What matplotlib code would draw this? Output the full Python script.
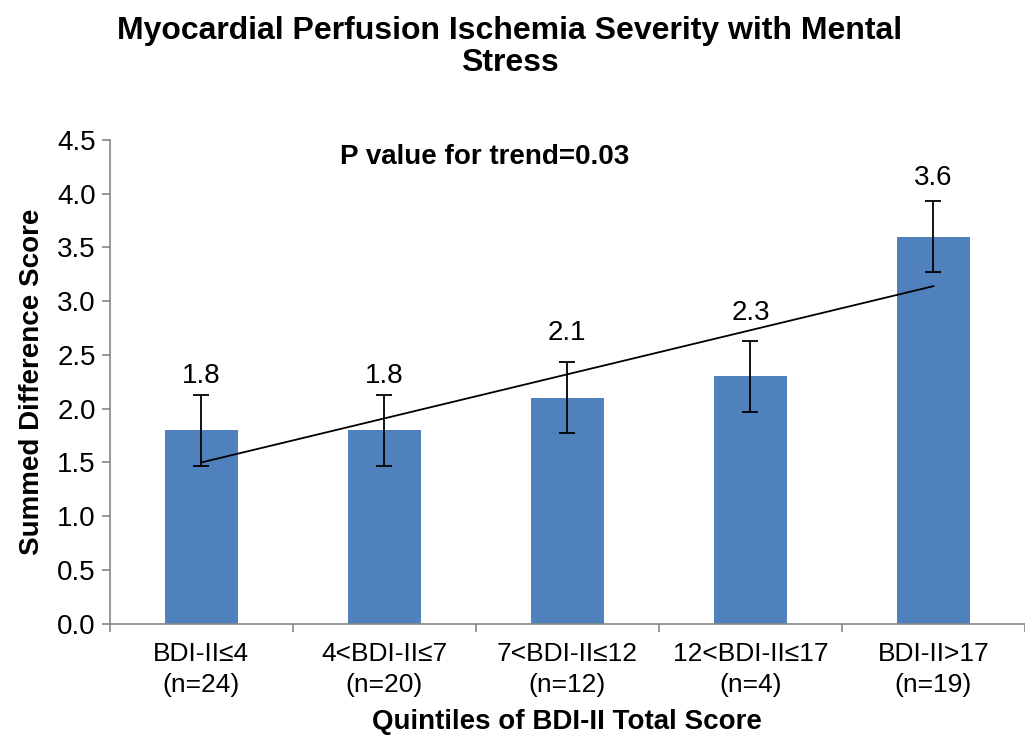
import matplotlib.pyplot as plt
import numpy as np

plt.rcParams['font.family'] = ['Liberation Sans', 'DejaVu Sans']

# Data
categories = ["BDI-II\u22644\n(n=24)", "4<BDI-II\u22647\n(n=20)", "7<BDI-II\u226412\n(n=12)",
              "12<BDI-II\u226417\n(n=4)", "BDI-II>17\n(n=19)"]
values = [1.8, 1.8, 2.1, 2.3, 3.6]
errors = [0.33, 0.33, 0.33, 0.33, 0.33]

# how far above each bar its value label sits (hand-placed in the original)
label_offsets = [0.50, 0.50, 0.60, 0.59, 0.55]

bar_color = "#4F81BD"
axis_color = "#868686"

fig = plt.figure(figsize=(10.25, 7.4), dpi=100)
ax = fig.add_axes([0.107, 0.157, 0.893, 0.654])

x = np.arange(len(values))
ax.bar(x, values, width=0.4, color=bar_color, zorder=2)
ax.errorbar(x, values, yerr=errors, fmt='none', ecolor='black', elinewidth=1.3,
            capsize=6, capthick=1.3, zorder=3)

# linear trend line
slope, intercept = np.polyfit(x, values, 1)
ax.plot([x[0], x[-1]], [intercept + slope * x[0], intercept + slope * x[-1]],
        color='black', linewidth=1.3, zorder=4)

# value labels
for xi, v, off in zip(x, values, label_offsets):
    ax.text(xi, v + off, f"{v:.1f}", ha='center', va='center', fontsize=20)

ax.text(1.55, 4.34, "P value for trend=0.03", ha='center', va='center',
        fontsize=20, fontweight='bold')

ax.set_xlim(-0.5, 4.5)
ax.set_ylim(0, 4.5)
ax.set_yticks(np.arange(0, 4.51, 0.5))
ax.set_yticklabels([f"{t:.1f}" for t in np.arange(0, 4.51, 0.5)], fontsize=20)
ax.set_xticks(x)
ax.set_xticklabels(categories, fontsize=19, linespacing=1.4)
ax.tick_params(axis='x', which='major', length=0, pad=13)
ax.set_xticks(np.arange(-0.5, 4.6, 1.0), minor=True)
ax.tick_params(axis='x', which='minor', length=6, color=axis_color, width=1.2)
ax.tick_params(axis='y', length=6, color=axis_color, width=1.2, pad=4)

for side in ['top', 'right']:
    ax.spines[side].set_visible(False)
for side in ['left', 'bottom']:
    ax.spines[side].set_color(axis_color)
    ax.spines[side].set_linewidth(1.2)

ax.set_ylabel("Summed Difference Score", fontsize=20, fontweight='bold', labelpad=9)
ax.set_xlabel("Quintiles of BDI-II Total Score", fontsize=20, fontweight='bold', labelpad=8)

fig.suptitle("Myocardial Perfusion Ischemia Severity with Mental\nStress",
             x=0.497, y=0.979, fontsize=23, fontweight='bold', linespacing=1.1)

fig.savefig("out.png", dpi=100)
